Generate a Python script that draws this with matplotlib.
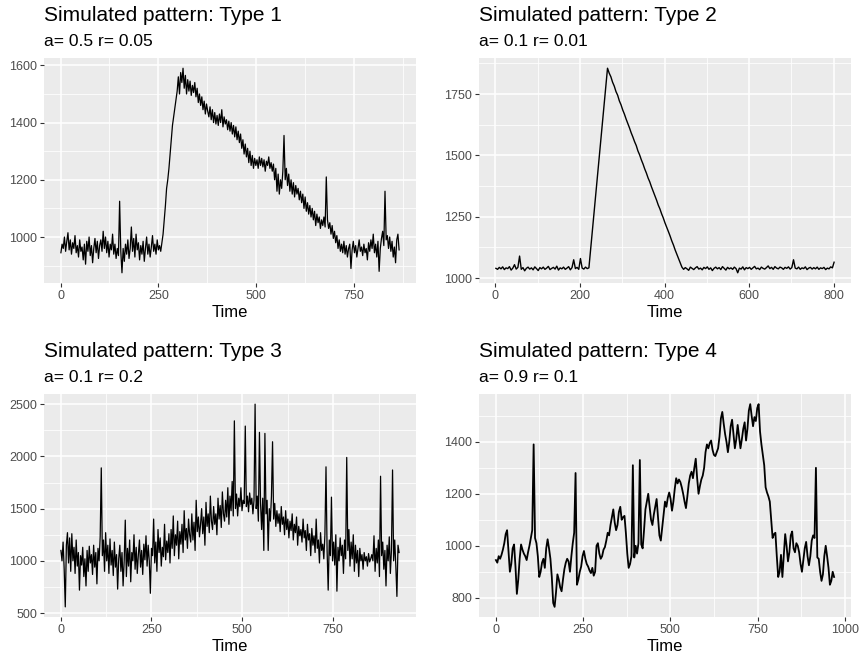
import numpy as np
import matplotlib.pyplot as plt
from matplotlib.ticker import MultipleLocator

# ----------------------- #
# Simulated patterns, 4 types
# ----------------------- #

plt.rcParams['font.family'] = ['Liberation Sans', 'DejaVu Sans']

W, H = 861, 663

# Type 1: time step 3, starts at 1
type1 = [
    945, 975, 960, 1000, 950, 985, 1015, 955, 990, 940,
    980, 960, 1005, 945, 970, 930, 990, 950, 965, 920,
    975, 905, 985, 950, 1000, 935, 970, 910, 960, 995,
    945, 985, 925, 970, 990, 950, 1020, 960, 1000, 945,
    985, 930, 975, 955, 1010, 940, 975, 925, 960, 935,
    1125, 950, 875, 960, 915, 975, 940, 990, 925, 960,
    1035, 950, 995, 930, 1010, 955, 980, 920, 970, 940,
    985, 915, 960, 1000, 940, 975, 930, 965, 1005, 950,
    975, 940, 990, 955, 970, 950,
    980, 1010, 1060, 1110, 1170, 1200, 1240, 1290, 1340, 1390,
    1420, 1450, 1480, 1510, 1560, 1500, 1575, 1540, 1590,
    1520, 1565, 1500, 1550, 1510, 1545, 1495, 1530, 1505, 1540, 1490, 1520, 1470, 1500,
    1460, 1490, 1445, 1475, 1430, 1465, 1440, 1420, 1455, 1410, 1445, 1400, 1435, 1395, 1425,
    1390, 1430, 1400, 1445, 1385, 1420, 1395, 1410, 1375, 1405, 1370, 1400, 1360, 1390,
    1350, 1385, 1340,
    1370, 1330, 1360, 1310, 1340, 1290, 1325, 1280, 1310, 1260, 1300, 1250, 1285, 1240,
    1275, 1250,
    1270, 1240, 1280, 1250, 1275, 1245, 1270, 1230, 1265, 1250, 1280, 1240, 1260, 1230,
    1255, 1200, 1240,
    1160, 1220, 1150, 1200, 1170, 1230,
    1355,
    1200, 1240, 1180, 1220, 1160, 1200, 1150, 1190, 1140,
    1180, 1150, 1170, 1130, 1160, 1120, 1150, 1100, 1140, 1090, 1120, 1080, 1110, 1070,
    1100, 1060, 1090, 1040, 1080, 1050, 1070, 1030, 1060, 1040, 1070, 1035,
    1210,
    1060, 1030, 1050, 1010, 1040, 995, 1020, 980, 1005, 960, 990, 950, 975,
    945, 985, 940, 970, 930, 960, 975, 890, 955, 985,
    945, 970, 930, 960, 990, 950, 965, 935, 975, 945,
    960, 920, 980, 950, 990, 960, 1010, 945, 975, 930,
    985, 880, 960, 995, 1020, 970, 1160, 990, 1005, 960,
    1000, 950, 985, 930, 965, 910, 990, 1010, 955,
]

# Type 2: time step 4
type2 = [
    1040, 1036, 1044, 1038, 1046, 1035, 1042, 1039, 1047, 1033,
    1041, 1055, 1037, 1044, 1090, 1036, 1043, 1030, 1040, 1045,
    1037, 1042, 1034, 1046, 1039, 1031, 1043, 1038, 1045, 1036,
    1041, 1048, 1035, 1040, 1044, 1037, 1049, 1033, 1042, 1038,
    1045, 1036, 1041, 1047, 1034, 1043, 1075, 1039, 1044, 1036,
    1080, 1041, 1037, 1045, 1039, 1042,
    1116, 1190, 1264, 1338, 1412, 1486, 1560, 1634, 1708, 1782, 1855,
    1835, 1820, 1798, 1782, 1760, 1745, 1722, 1706, 1685, 1668,
    1648, 1630, 1612, 1592, 1575, 1556, 1540, 1518, 1502, 1482,
    1465, 1445, 1428, 1408, 1392, 1372, 1354, 1336, 1318, 1298,
    1282, 1262, 1245, 1225, 1208, 1190, 1172, 1152, 1135, 1115,
    1098, 1080, 1062, 1045,
    1036, 1043, 1038, 1032, 1045, 1040, 1035, 1042, 1047, 1037,
    1041, 1034, 1044, 1039, 1046, 1036, 1042, 1031, 1040, 1045,
    1038, 1043, 1035, 1047, 1040, 1033, 1044, 1038, 1042, 1036,
    1045, 1039, 1022, 1041, 1037, 1046, 1034, 1043, 1039, 1044,
    1036, 1042, 1048, 1038, 1041, 1035, 1045, 1040, 1037, 1043,
    1050, 1039, 1044, 1036, 1047, 1041, 1038, 1045, 1042, 1036,
    1044, 1040, 1046, 1037, 1043, 1075, 1041, 1038, 1045, 1036,
    1042, 1039, 1046, 1035, 1041, 1044, 1037, 1043, 1038, 1045,
    1036, 1042, 1039, 1044, 1035, 1041, 1038, 1046, 1042, 1065,
]

# Type 3: time step 3
type3 = [
    1100, 1000, 1180, 920, 560, 1150, 1270, 980, 1220, 900,
    1260, 1000, 1130, 880, 1200, 950, 1080, 720, 1050, 960,
    1130, 850, 1020, 760, 1100, 900, 1140, 980, 1060, 870,
    1150, 940, 1080, 780, 1120, 1000, 1230, 1890, 1050, 1200,
    900, 1270, 1000, 1150, 880, 1210, 960, 1100, 860, 1180,
    940, 1060, 730, 1020, 1150, 900, 1080, 760, 1000, 1390,
    850, 1120, 950, 1200, 800, 1080, 1000, 1250, 920, 1130,
    880, 1060, 1200, 940, 1100, 870, 1160, 1010, 1240, 950,
    1150, 1000, 690, 1120, 1050, 1400, 980, 1180, 900, 1300,
    1080, 1220, 950, 1130, 1040, 1350, 1010, 1190, 1080, 1260,
    980, 1300, 1120, 1430, 1050, 1250, 1150, 1380, 1020, 1280,
    1160, 1350, 1080, 1480, 1200, 1310, 1120, 1400, 1250, 1180,
    1450, 1200, 1370, 1100, 1580, 1280, 1420, 1230, 1350, 1500,
    1260, 1420, 1150, 1560, 1330, 1450, 1270, 1620, 1380, 1300,
    1520, 1350, 1450, 1250, 1600, 1400, 1530, 1320, 1660, 1450,
    1380, 1580, 1420, 1700, 1350, 1620, 1480, 1760, 1430, 2340,
    1500, 1640, 1430, 1600, 1520, 1700, 1480, 1580, 1550, 2290,
    1520, 1620, 1470, 1650, 1540, 1600, 1450, 1580, 2500, 1500,
    1620, 1380, 2230, 1550, 1300, 1600, 1100, 2220, 1450, 1580,
    1100, 1500, 1380, 1620, 2140, 1400, 1550, 1330, 1480, 1360,
    1450, 1280, 1520, 1350, 1420, 1250, 1480, 1300, 1400, 1220,
    1380, 1290, 1450, 1200, 1350, 1270, 1420, 1150, 1330, 1240,
    1300, 1180, 1400, 1220, 1290, 1100, 1350, 1200, 1260, 1050,
    1310, 1150, 1240, 1080, 1400, 1120, 1200, 980, 1270, 1100,
    1160, 1020, 1250, 1900, 1100, 720, 1200, 1050, 1610, 1000,
    1180, 960, 1250, 710, 1130, 1000, 1220, 1050, 1150, 880,
    1200, 1020, 1990, 1100, 1300, 950, 1180, 1020, 1250, 900,
    1150, 980, 1100, 850, 1120, 1000, 1060, 920, 1080, 1000,
    1040, 950, 1070, 990, 1020, 1060, 1000, 1240, 900, 1120,
    980, 1200, 850, 1810, 1050, 1180, 920, 1100, 760, 1150,
    1000, 1230, 880, 1100, 1870, 1000, 1200, 950, 660, 1150, 1080,
]

# Type 4: time step 4
type4 = [
    945, 935, 960, 950, 965, 985, 1010, 1045, 1060, 980,
    900, 930, 990, 1005, 920, 815, 870, 950, 1005, 985,
    970, 960, 945, 975, 1000, 1030, 1060, 1390, 1030, 1010,
    960, 880, 900, 935, 950, 915, 990, 1025, 990, 950,
    880, 780, 765, 820, 890, 870, 840, 825, 870, 910,
    935, 950, 940, 900, 960, 1010, 1050, 1280, 850, 870,
    900, 920, 960, 980, 950, 930, 920, 905, 895, 915,
    885, 900, 1000, 1010, 970, 950, 960, 985, 995, 1020,
    1050, 1040, 1080, 1110, 1140, 1090, 1060, 1080, 1130, 1150,
    1100, 1110, 1115, 1050, 970, 915, 930, 960, 1310, 955,
    1000, 970, 1010, 1330, 1005, 990, 1060, 1140, 1170, 1200,
    1150, 1100, 1080, 1120, 1150, 1180, 1110, 1040, 1020, 1070,
    1120, 1170, 1150, 1185, 1205, 1180, 1135, 1170, 1220, 1260,
    1240, 1255, 1245, 1225, 1200, 1170, 1145, 1190, 1240, 1270,
    1285, 1260, 1300, 1335, 1260, 1200, 1230, 1255, 1270, 1300,
    1360, 1390, 1375, 1395, 1405, 1370, 1350, 1345, 1360, 1375,
    1420, 1490, 1515, 1470, 1430, 1400, 1360, 1400, 1460, 1485,
    1430, 1375, 1410, 1465, 1420, 1375, 1410, 1450, 1475, 1405,
    1450, 1520, 1545, 1500, 1460, 1495, 1480, 1530, 1545, 1440,
    1390, 1350, 1310, 1225, 1205, 1190, 1170, 1100, 1030, 1045,
    1050, 960, 880, 900, 965, 880, 960, 1045, 1000, 940,
    975, 1040, 1055, 990, 975, 1010, 1000, 975, 930, 900,
    945, 990, 1015, 960, 925, 960, 1020, 1040, 1030, 1300,
    955, 950, 900, 865, 890, 960, 1000, 960, 915, 850,
    865, 900, 880,
]

titles = ['Simulated pattern: Type 1', 'Simulated pattern: Type 2',
          'Simulated pattern: Type 3', 'Simulated pattern: Type 4']
subtitles = ['a= 0.5 r= 0.05', 'a= 0.1 r= 0.01', 'a= 0.1 r= 0.2', 'a= 0.9 r= 0.1']


def draw_panel(box, y, step, title, subtitle, xmajor, ymajor, lw=0.9):
    left, top, right, bottom = box
    ax = fig.add_axes([left / W, 1 - bottom / H, (right - left) / W, (bottom - top) / H])
    x = 1 + step * np.arange(len(y))
    ax.plot(x, y, color='black', lw=lw)

    # grey panel with white grid
    ax.set_facecolor('#EBEBEB')
    ax.xaxis.set_major_locator(MultipleLocator(xmajor))
    ax.xaxis.set_minor_locator(MultipleLocator(xmajor / 2))
    ax.yaxis.set_major_locator(MultipleLocator(ymajor))
    ax.yaxis.set_minor_locator(MultipleLocator(ymajor / 2))
    ax.grid(which='minor', color='white', lw=0.55)
    ax.grid(which='major', color='white', lw=1.1)
    ax.set_axisbelow(True)
    for s in ax.spines.values():
        s.set_visible(False)
    ax.tick_params(which='major', length=3, width=0.8, color='#333333',
                   labelsize=9, labelcolor='#4D4D4D', pad=2)
    ax.tick_params(which='minor', length=0)
    ax.set_xlabel('Time', fontsize=12, color='black', labelpad=2)

    fig.text(left / W, 1 - (top - 37) / H, title, fontsize=15, va='baseline', ha='left')
    fig.text(left / W, 1 - (top - 12) / H, subtitle, fontsize=12.5, va='baseline', ha='left')
    return ax


fig = plt.figure(figsize=(W / 100, H / 100), dpi=100)

draw_panel((44, 58, 416, 283), type1, 3, titles[0], subtitles[0], 250, 200)
draw_panel((479, 58, 851, 283), type2, 4, titles[1], subtitles[1], 200, 250, lw=1.0)
draw_panel((44, 394, 416, 617), type3, 3, titles[2], subtitles[2], 250, 500)
draw_panel((479, 394, 851, 617), type4, 4, titles[3], subtitles[3], 250, 200, lw=1.3)

plt.savefig('out.png', dpi=100)
plt.close()
